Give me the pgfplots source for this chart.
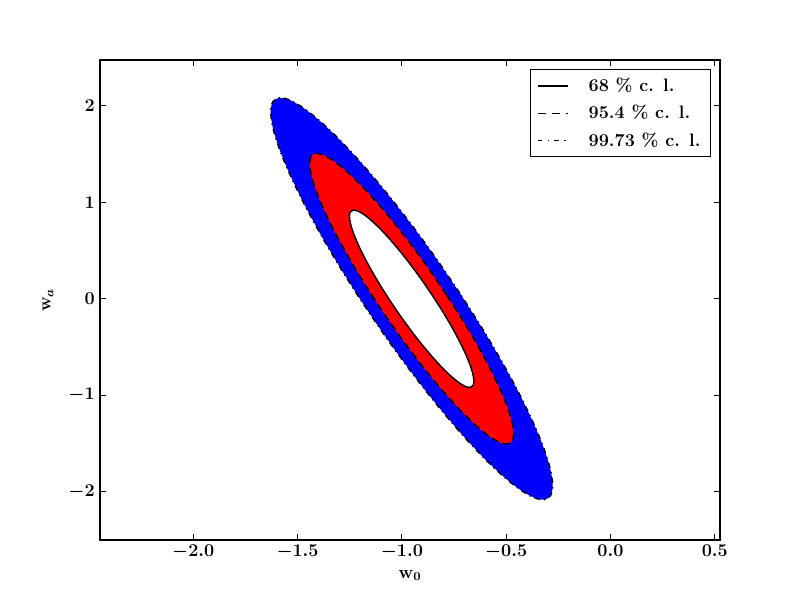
\documentclass[border=0pt]{standalone}
\usepackage{pgfplots}
\pgfplotsset{compat=1.18}
\newcommand{\myfont}{\fontsize{13}{15.6}\selectfont\bfseries\boldmath}
\newcommand{\mathfont}{\fontsize{12}{14.4}\selectfont\bfseries\boldmath}
\begin{document}
\begin{tikzpicture}[x=1pt,y=1pt]
\begin{axis}[at={(0,0)}, anchor=south west, scale only axis,
  width=446.4pt, height=345.6pt,
  xmin=-2.447, xmax=0.525, ymin=-2.5, ymax=2.474,
  xtick={-2,-1.5,-1,-0.5,0,0.5}, ytick={-2,-1,0,1,2},
  xticklabel style={/pgf/number format/.cd, fixed, fixed zerofill, precision=1},
  tick label style={font=\mathfont, scale=1.08},
  label style={font=\mathfont, scale=1.08},
  xlabel={$\mathbf{w}_0$}, ylabel={$\mathbf{w}_a$},
  x label style={at={(axis description cs:0.5,-0.074)}, anchor=center},
  y label style={at={(axis description cs:-0.084,0.5)}, anchor=center},
  tick align=inside, tick pos=both, major tick length=4pt,
  tick style={black, line width=0.6pt},
  axis line style={line width=0.8pt},
  legend style={at={(0.985,0.981)}, anchor=north east, font=\myfont,
    draw=black, line width=0.8pt, row sep=4.5pt, column sep=12.5pt,
    inner xsep=5pt, inner ysep=4pt},
  legend cell align=left,
  legend image code/.code={\draw[#1] (0pt,0pt) -- (21.6pt,0pt);},
]
% 99.73 % region (blue)
\addplot[fill=blue, draw=black, line width=1pt, dash pattern=on 4pt off 3pt on 1pt off 3pt, smooth, forget plot] coordinates {
(-0.7218,0.0569) (-0.8356,0.4178) (-0.953,0.7657) (-1.0704,1.0902) (-1.1842,1.3821)
(-1.291,1.6316) (-1.3875,1.8318) (-1.4708,1.9761) (-1.5384,2.0605) (-1.5882,2.0822)
(-1.6187,2.0407) (-1.629,1.9372) (-1.6187,1.7749) (-1.5882,1.5585) (-1.5384,1.2948)
(-1.4708,0.9917) (-1.3875,0.6586) (-1.291,0.3056) (-1.1842,-0.0569) (-1.0704,-0.4178)
(-0.953,-0.7657) (-0.8356,-1.0902) (-0.7218,-1.3821) (-0.615,-1.6316) (-0.5185,-1.8318)
(-0.4352,-1.9761) (-0.3676,-2.0605) (-0.3178,-2.0822) (-0.2873,-2.0407) (-0.277,-1.9372)
(-0.2873,-1.7749) (-0.3178,-1.5585) (-0.3676,-1.2948) (-0.4352,-0.9917) (-0.5185,-0.6586)
(-0.615,-0.3056) (-0.7218,0.0569)
} -- cycle;
% 95.4 % region (red)
\addplot[fill=red, draw=black, line width=1pt, dash pattern=on 5pt off 3.5pt, smooth, forget plot] coordinates {
(-0.7859,0.0411) (-0.8682,0.3021) (-0.953,0.5535) (-1.0378,0.7881) (-1.1201,0.9991)
(-1.1974,1.1795) (-1.2671,1.3242) (-1.3273,1.4285) (-1.3762,1.4895) (-1.4122,1.5052)
(-1.4343,1.4752) (-1.4417,1.4004) (-1.4343,1.2831) (-1.4122,1.1266) (-1.3762,0.936)
(-1.3273,0.7169) (-1.2671,0.4761) (-1.1974,0.2209) (-1.1201,-0.0411) (-1.0378,-0.3021)
(-0.953,-0.5535) (-0.8682,-0.7881) (-0.7859,-0.9991) (-0.7086,-1.1795) (-0.6389,-1.3242)
(-0.5787,-1.4285) (-0.5298,-1.4895) (-0.4938,-1.5052) (-0.4717,-1.4752) (-0.4643,-1.4004)
(-0.4717,-1.2831) (-0.4938,-1.1266) (-0.5298,-0.936) (-0.5787,-0.7169) (-0.6389,-0.4761)
(-0.7086,-0.2209) (-0.7859,0.0411)
} -- cycle;
% 68 % region (white)
\addplot[fill=white, draw=black, line width=1pt, solid, smooth, forget plot] coordinates {
(-0.851,0.0251) (-0.9012,0.1843) (-0.953,0.3378) (-1.0048,0.4809) (-1.055,0.6096)
(-1.1021,0.7197) (-1.1447,0.808) (-1.1814,0.8717) (-1.2112,0.9089) (-1.2332,0.9184)
(-1.2467,0.9002) (-1.2512,0.8545) (-1.2467,0.7829) (-1.2332,0.6874) (-1.2112,0.5711)
(-1.1814,0.4374) (-1.1447,0.2905) (-1.1021,0.1348) (-1.055,-0.0251) (-1.0048,-0.1843)
(-0.953,-0.3378) (-0.9012,-0.4809) (-0.851,-0.6096) (-0.8039,-0.7197) (-0.7613,-0.808)
(-0.7246,-0.8717) (-0.6948,-0.9089) (-0.6728,-0.9184) (-0.6593,-0.9002) (-0.6548,-0.8545)
(-0.6593,-0.7829) (-0.6728,-0.6874) (-0.6948,-0.5711) (-0.7246,-0.4374) (-0.7613,-0.2905)
(-0.8039,-0.1348) (-0.851,0.0251)
} -- cycle;
\addlegendimage{black, line width=1pt, solid}
\addlegendentry{68 \% c. l.}
\addlegendimage{black, line width=1pt, dash pattern=on 6pt off 4pt}
\addlegendentry{95.4 \% c. l.}
\addlegendimage{black, line width=1pt, dash pattern=on 3pt off 4pt on 1pt off 4pt}
\addlegendentry{99.73 \% c. l.}
\end{axis}
\pgfresetboundingbox
\path[use as bounding box] (-72,-43.2) rectangle (504,388.8);
\end{tikzpicture}
\end{document}
